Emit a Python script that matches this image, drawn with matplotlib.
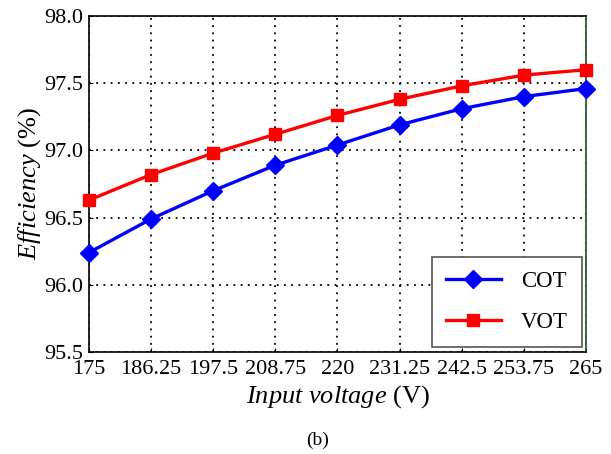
import matplotlib.pyplot as plt
import numpy as np

plt.rcParams['font.family'] = ['Liberation Serif', 'DejaVu Serif']
plt.rcParams['mathtext.fontset'] = 'custom'
plt.rcParams['mathtext.rm'] = 'Liberation Serif'
plt.rcParams['mathtext.it'] = 'Liberation Serif:italic'

# data
voltage = [175, 186.25, 197.5, 208.75, 220, 231.25, 242.5, 253.75, 265]
voltage_labels = ['175', '186.25', '197.5', '208.75', '220', '231.25', '242.5', '253.75', '265']
cot_eff = [96.24, 96.49, 96.70, 96.89, 97.04, 97.19, 97.31, 97.40, 97.46]
vot_eff = [96.63, 96.82, 96.98, 97.12, 97.26, 97.38, 97.48, 97.56, 97.60]
y_ticks = [95.5, 96.0, 96.5, 97.0, 97.5, 98.0]

fig = plt.figure(figsize=(6.11, 4.54), dpi=100)
ax = fig.add_axes([0.1457, 0.2247, 0.8133, 0.7401])

ax.plot(voltage, cot_eff, color='#0000ff', lw=2.4, marker='D', ms=9, label='COT', clip_on=False, zorder=3)
ax.plot(voltage, vot_eff, color='#ff0000', lw=2.4, marker='s', ms=9, label='VOT', clip_on=False, zorder=3)

ax.set_xlim(175, 265)
ax.set_ylim(95.5, 98.0)
ax.set_xticks(voltage)
ax.set_xticklabels(voltage_labels)
ax.set_yticks(y_ticks)
ax.set_yticklabels(['%.1f' % v for v in y_ticks])
ax.tick_params(direction='in', length=3, labelsize=16)
ax.tick_params(axis='x', pad=6)
ax.tick_params(axis='y', pad=4)
ax.grid(True, color='black', linestyle=(0, (1, 3)), linewidth=1.3)
for s in ax.spines.values():
    s.set_linewidth(1.2)
ax.spines['right'].set_color('#1f4f1f')

ax.set_xlabel(r'$\mathit{Input\ voltage}$ (V)', fontsize=19, labelpad=3)
ax.set_ylabel(r'$\mathit{Efficiency}$ (%)', fontsize=19, labelpad=1)

leg = ax.legend(loc='lower right', fontsize=16.5, fancybox=False, framealpha=1,
                edgecolor='#555555', handlelength=2.4, handletextpad=0.9,
                borderpad=0.6, labelspacing=0.9, borderaxespad=0,
                bbox_to_anchor=(0.992, 0.015))
leg.get_frame().set_linewidth(1.2)

fig.text(0.52, 0.03, '(b)', ha='center', va='center', fontsize=14)

fig.savefig('out.png', dpi=100)
